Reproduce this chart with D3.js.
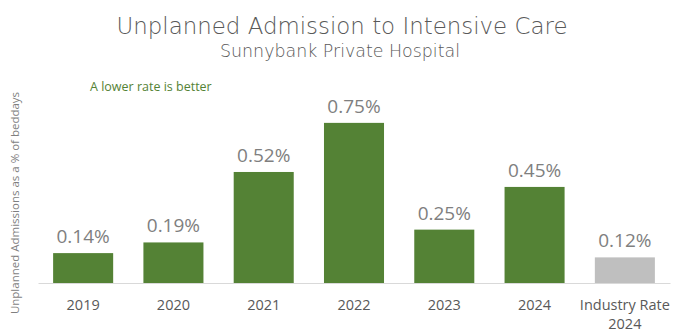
<!DOCTYPE html>
<html>
<head>
<meta charset="utf-8">
<script src="https://cdn.jsdelivr.net/npm/d3@7"></script>
<style>
  body { margin: 0; background: #fff; }
  text { font-family: "Open Sans", sans-serif; }
</style>
</head>
<body>
<div id="chart"></div>
<script>
// years plus the industry benchmark
const categories = ["2019", "2020", "2021", "2022", "2023", "2024", "Industry Rate\n2024"];
const rates = [0.14, 0.19, 0.52, 0.75, 0.25, 0.45, 0.12];
const barColors = ["#548235", "#548235", "#548235", "#548235", "#548235", "#548235", "#bfbfbf"];

const width = 686;
const height = 335;
const margin = {top: 60, right: 16, bottom: 52, left: 38};

const svg = d3.select("#chart")
  .append("svg")
  .attr("width", width)
  .attr("height", height);

const x = d3.scaleBand()
  .domain(categories)
  .range([margin.left, width - margin.right])
  .paddingInner(0.335)
  .paddingOuter(0.1675);

// 0.75 ends up ~160px above the baseline
const y = d3.scaleLinear()
  .domain([0, 1.0])
  .range([height - margin.bottom, height - margin.bottom - 213.5]);

// titles
svg.append("text")
  .attr("x", 342)
  .attr("y", 34)
  .attr("text-anchor", "middle")
  .style("font-family", "'DejaVu Sans', sans-serif")
  .style("font-weight", 200)
  .style("font-size", "22.5px")
  .attr("fill", "#595959")
  .attr("textLength", 451)
  .attr("lengthAdjust", "spacingAndGlyphs")
  .text("Unplanned Admission to Intensive Care");

svg.append("text")
  .attr("x", 340)
  .attr("y", 57)
  .attr("text-anchor", "middle")
  .style("font-family", "'DejaVu Sans', sans-serif")
  .style("font-weight", 200)
  .style("font-size", "17.5px")
  .attr("fill", "#595959")
  .attr("textLength", 240)
  .attr("lengthAdjust", "spacingAndGlyphs")
  .text("Sunnybank Private Hospital");

svg.append("text")
  .attr("x", 90)
  .attr("y", 91)
  .style("font-size", "12.5px")
  .attr("fill", "#548235")
  .text("A lower rate is better");

// y axis title
svg.append("text")
  .attr("transform", "translate(19,203) rotate(-90)")
  .attr("text-anchor", "middle")
  .style("font-size", "11.5px")
  .attr("fill", "#7f7f7f")
  .text("Unplanned Admissions as a % of beddays");

// bars
svg.selectAll("rect.bar")
  .data(rates)
  .enter().append("rect")
  .attr("class", "bar")
  .attr("x", (d, i) => x(categories[i]))
  .attr("y", d => y(d))
  .attr("width", x.bandwidth())
  .attr("height", d => y(0) - y(d))
  .attr("fill", (d, i) => barColors[i]);

// value labels
svg.selectAll("text.val")
  .data(rates)
  .enter().append("text")
  .attr("class", "val")
  .attr("x", (d, i) => x(categories[i]) + x.bandwidth() / 2)
  .attr("y", d => y(d) - 10)
  .attr("text-anchor", "middle")
  .style("font-size", "19px")
  .attr("fill", "#7f7f7f")
  .text(d => d.toFixed(2) + "%");

// baseline
const xAxis = d3.axisBottom(x).tickSize(0).tickPadding(0);
const gx = svg.append("g")
  .attr("transform", `translate(0,${y(0)})`)
  .call(xAxis);
gx.select(".domain").attr("stroke", "#d9d9d9").attr("stroke-width", 1);
gx.selectAll(".tick text").remove();

// category labels, split on newline
gx.selectAll(".tick").each(function(d) {
  const t = d3.select(this).append("text")
    .attr("text-anchor", "middle")
    .attr("fill", "#595959")
    .style("font-size", "14.5px")
    .style("font-family", "'Open Sans', sans-serif");
  d.split("\n").forEach((line, k) => {
    t.append("tspan")
      .attr("x", 0)
      .attr("y", 27 + k * 19)
      .text(line);
  });
});
</script>
</body>
</html>
